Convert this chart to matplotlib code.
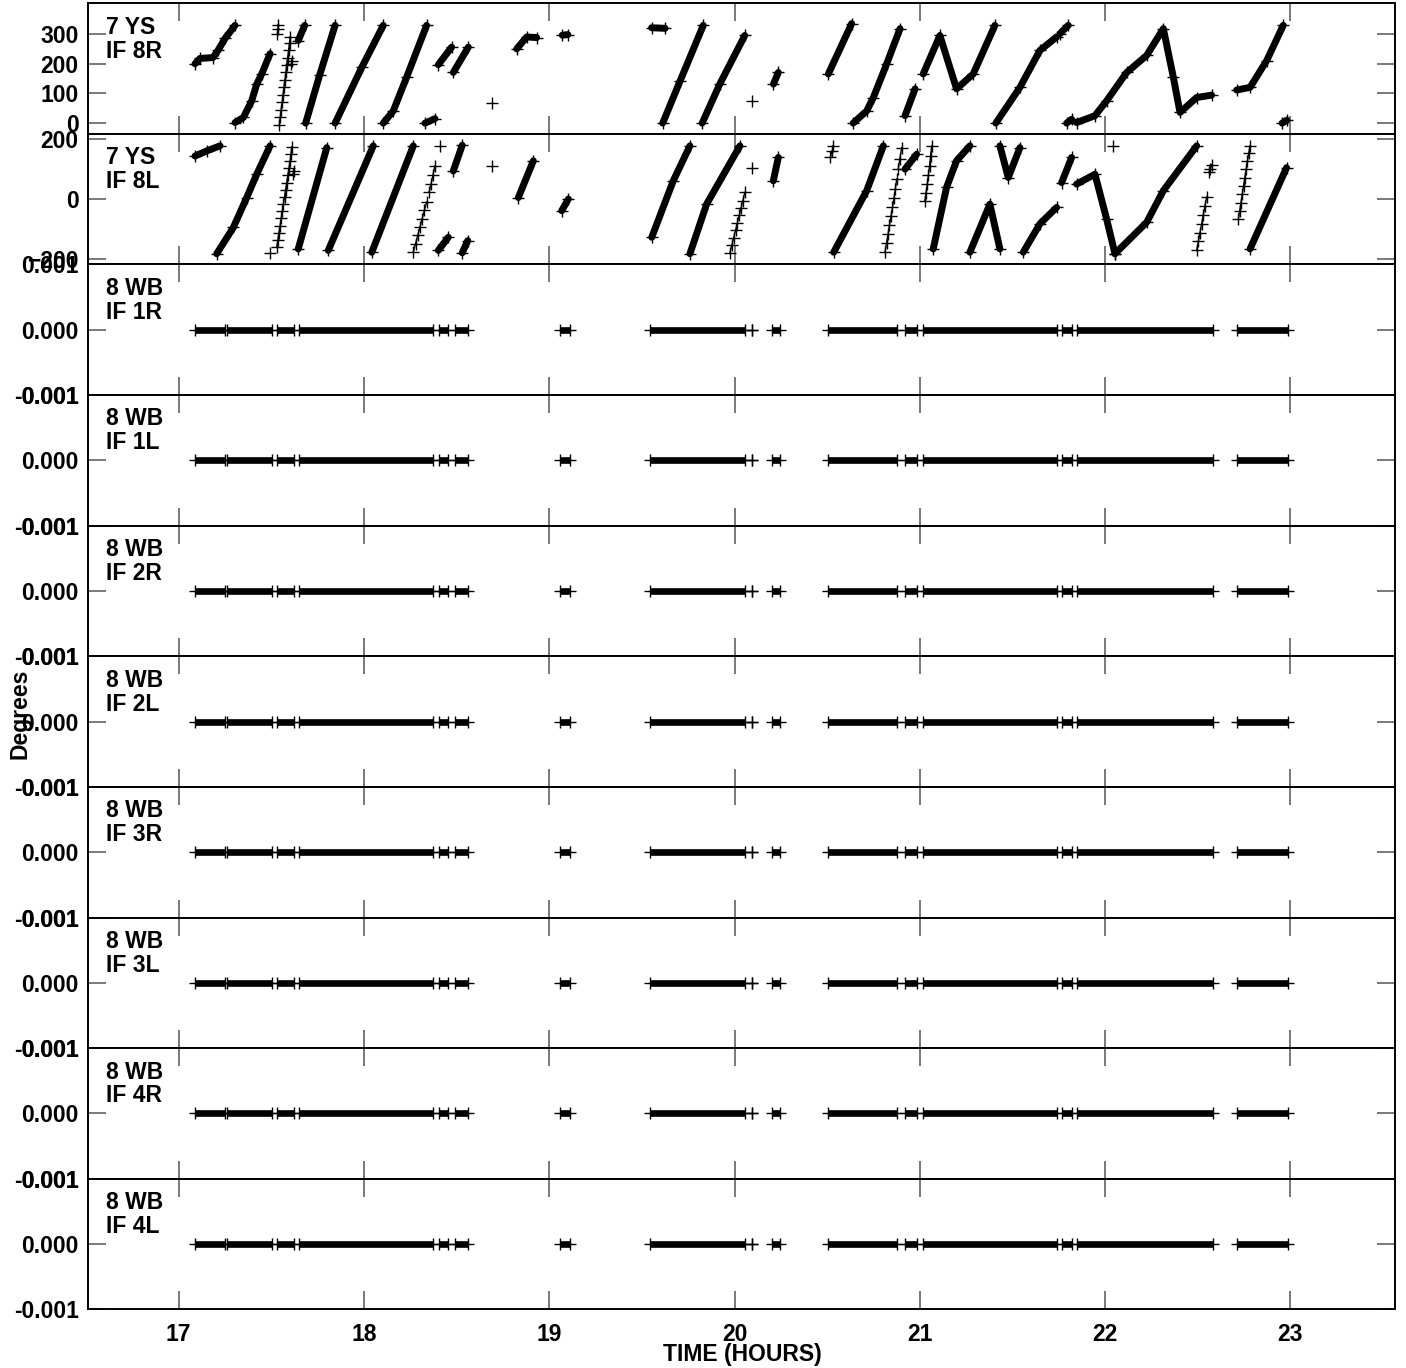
import matplotlib
matplotlib.use("Agg")
import matplotlib.pyplot as plt

plt.rcParams["font.family"] = ["Liberation Sans", "DejaVu Sans"]
plt.rcParams["font.weight"] = "bold"

# --- data (time in hours, phase in degrees) ---

panel_labels = [
    "7 YS\nIF 8R", "7 YS\nIF 8L",
    "8 WB\nIF 1R", "8 WB\nIF 1L", "8 WB\nIF 2R", "8 WB\nIF 2L",
    "8 WB\nIF 3R", "8 WB\nIF 3L", "8 WB\nIF 4R", "8 WB\nIF 4L",
]

# IF 8R: dense strokes
r8_strokes = [
    [(17.088, 199), (17.115, 217), (17.185, 220), (17.212, 244), (17.25, 284), (17.304, 328)],
    [(17.304, 2), (17.349, 19), (17.394, 75), (17.421, 131), (17.448, 165), (17.493, 233)],
    [(17.645, 277), (17.68, 328)],
    [(17.685, 0), (17.76, 160), (17.844, 328)],
    [(17.844, 0), (17.988, 187), (18.104, 328)],
    [(18.104, 0), (18.158, 41), (18.23, 154), (18.338, 328)],
    [(18.329, 0), (18.383, 15)],
    [(18.401, 196), (18.473, 255)],
    [(18.482, 170), (18.563, 255)],
    [(18.824, 249), (18.878, 289), (18.932, 287)],
    [(19.07, 295), (19.10, 297)],
    [(19.552, 320), (19.625, 318)],
    [(19.612, 0), (19.707, 143), (19.831, 328)],
    [(19.825, 0), (19.92, 131), (20.055, 294)],
    [(20.21, 131), (20.236, 170)],
    [(20.506, 165), (20.632, 334)],
    [(20.64, 0), (20.713, 41), (20.749, 86), (20.821, 199), (20.893, 317)],
    [(20.92, 25), (20.974, 115)],
    [(21.018, 165), (21.108, 294), (21.198, 115), (21.288, 165), (21.405, 328)],
    [(21.41, 0), (21.54, 120), (21.648, 244), (21.738, 289)],
    [(21.756, 300), (21.801, 328)],
    [(21.792, 0), (21.819, 13)],
    [(21.846, 2), (21.945, 25), (22.008, 75), (22.116, 170), (22.224, 227), (22.314, 317),
     (22.368, 154), (22.404, 36), (22.494, 86), (22.575, 94)],
    [(22.71, 111), (22.782, 120), (22.872, 210), (22.961, 328)],
    [(22.955, 0), (22.98, 10)],
]
# IF 8R: sparse points
r8_sparse = [
    [(17.533, 300), (17.535, 315), (17.537, 330)],
    [(17.543, -5), (17.548, 20), (17.553, 45), (17.558, 70), (17.563, 95), (17.568, 120),
     (17.573, 145), (17.578, 170), (17.583, 195), (17.588, 220), (17.593, 245),
     (17.598, 270), (17.601, 290)],
    [(17.608, 200), (17.612, 210)],
    [(18.689, 69)],
    [(20.092, 75)],
]

# IF 8L: dense strokes
l8_strokes = [
    [(17.088, 144), (17.151, 161), (17.223, 178)],
    [(17.205, -183), (17.295, -95), (17.367, 5), (17.421, 83), (17.493, 178)],
    [(17.645, -167), (17.799, 172)],
    [(17.807, -172), (18.05, 178)],
    [(18.042, -178), (18.266, 178)],
    [(18.401, -172), (18.455, -128)],
    [(18.482, 94), (18.53, 180)],
    [(18.53, -180), (18.56, -139)],
    [(18.833, 5), (18.914, 128)],
    [(19.067, -39), (19.103, 0)],
    [(19.553, -128), (19.669, 61), (19.759, 178)],
    [(19.759, -183), (19.849, -17), (20.029, 178)],
    [(20.209, 61), (20.236, 139)],
    [(20.535, -178), (20.713, 28), (20.803, 178)],
    [(20.92, 100), (20.983, 150)],
    [(21.072, -167), (21.144, 39), (21.198, 128), (21.27, 178)],
    [(21.27, -178), (21.378, -17), (21.432, -167)],
    [(21.432, 178), (21.477, 72), (21.54, 172)],
    [(21.558, -178), (21.648, -83), (21.738, -28)],
    [(21.765, 55), (21.819, 139)],
    [(21.846, 50), (21.945, 83), (22.008, -67), (22.053, -183)],
    [(22.053, -183), (22.224, -78), (22.314, 28), (22.494, 178)],
    [(22.782, -167), (22.979, 105)],
]
# IF 8L: sparse points
l8_sparse = [
    [(17.493, -180)],
    [(17.529, -161), (17.535, -137), (17.541, -113), (17.547, -89), (17.553, -65),
     (17.559, -41), (17.565, -17), (17.571, 7), (17.577, 31), (17.583, 55),
     (17.589, 79), (17.595, 103), (17.601, 127), (17.606, 151), (17.61, 175)],
    [(17.617, 85), (17.621, 93)],
    [(18.266, -178), (18.278, -150), (18.29, -122), (18.302, -94), (18.314, -66),
     (18.326, -38), (18.338, -10)],
    [(18.352, 25), (18.362, 50), (18.372, 80), (18.383, 111)],
    [(18.41, 178)],
    [(18.689, 111)],
    [(19.975, -180), (19.985, -155), (19.995, -130), (20.005, -105), (20.015, -80),
     (20.025, -55), (20.035, -30), (20.045, -5), (20.055, 22)],
    [(20.092, 105)],
    [(20.517, 140), (20.526, 160), (20.533, 178)],
    [(20.812, -178), (20.82, -148), (20.828, -118), (20.836, -88), (20.844, -58),
     (20.852, -28), (20.86, 2), (20.868, 35), (20.875, 67)],
    [(20.883, 100), (20.892, 135), (20.902, 172)],
    [(21.027, -6), (21.033, 20), (21.04, 50), (21.046, 80), (21.052, 110),
     (21.058, 145), (21.064, 178)],
    [(22.044, 178)],
    [(22.494, -172), (22.503, -142), (22.512, -112), (22.521, -82), (22.53, -52),
     (22.539, -22), (22.548, 8)],
    [(22.562, 92), (22.568, 102), (22.575, 115)],
    [(22.719, -67), (22.726, -40), (22.733, -12), (22.74, 16), (22.747, 44),
     (22.754, 72), (22.761, 100), (22.768, 128), (22.775, 153), (22.782, 178)],
]

# WB panels: scan segments where the phase is 0
zero_start = [17.088, 17.261, 17.531, 17.649, 18.404, 18.491, 19.057, 19.543, 20.092,
              20.200, 20.506, 20.920, 21.018, 21.765, 21.846, 22.709]
zero_end = [17.250, 17.504, 17.622, 18.372, 18.453, 18.561, 19.111, 20.056, 20.092,
            20.245, 20.875, 20.983, 21.738, 21.819, 22.583, 22.988]

x_ticks = [17, 18, 19, 20, 21, 22, 23]

# --- figure ---
fig = plt.figure(figsize=(14.06, 13.68), dpi=100)
axes = fig.subplots(10, 1, sharex=True, gridspec_kw={"hspace": 0})
fig.subplots_adjust(left=0.0628, right=0.9924, top=0.9976, bottom=0.0429)

FS = 16.5


def draw_phase(ax, strokes, sparse):
    for s in strokes:
        t = [p[0] for p in s]
        v = [p[1] for p in s]
        ax.plot(t, v, color="black", lw=5.0, solid_capstyle="round")
        ax.plot(t, v, "+", color="black", ms=8, mew=1.0)
    for s in sparse:
        t = [p[0] for p in s]
        v = [p[1] for p in s]
        ax.plot(t, v, color="black", lw=1.0)
        ax.plot(t, v, "+", color="black", ms=8, mew=1.0)


draw_phase(axes[0], r8_strokes, r8_sparse)
axes[0].set_ylim(-36, 402)
axes[0].set_yticks([0, 100, 200, 300])

draw_phase(axes[1], l8_strokes, l8_sparse)
axes[1].set_ylim(-219, 218)
axes[1].set_yticks([-200, 0, 200])

for ax in axes[2:]:
    for s, e in zip(zero_start, zero_end):
        ax.plot([s, e], [0, 0], color="black", lw=4.8, solid_capstyle="butt")
        ax.plot([s, e], [0, 0], "+", color="black", ms=8, mew=1.0)
    ax.set_ylim(-0.001, 0.001)
    ax.set_yticks([-0.001, 0.0, 0.001])
    ax.set_yticklabels(["-0.001", "0.000", "0.001"])

for ax, lab in zip(axes, panel_labels):
    ax.set_xlim(16.512, 23.566)
    ax.set_xticks(x_ticks)
    ax.tick_params(axis="both", direction="in", length=13, width=1.1, color="#555555",
                   top=True, right=True, labelsize=FS, pad=7)
    for sp in ax.spines.values():
        sp.set_linewidth(1.4)
        sp.set_color("black")
    ax.text(0.0135, 0.905, lab, transform=ax.transAxes, ha="left", va="top",
            fontsize=FS, fontweight="bold", linespacing=1.05)
    for t in ax.get_yticklabels():
        t.set_fontweight("bold")

axes[-1].set_xticklabels([str(v) for v in x_ticks], fontweight="bold")
axes[-1].tick_params(axis="x", pad=10)

fig.text(742 / 1406, 1 - 1355 / 1368, "TIME (HOURS)", ha="center", va="center",
         fontsize=FS, fontweight="bold")
fig.text(20 / 1406, 1 - 714 / 1368, "Degrees", ha="center", va="center",
         rotation=90, fontsize=FS, fontweight="bold")

fig.savefig("out.png", dpi=100)
